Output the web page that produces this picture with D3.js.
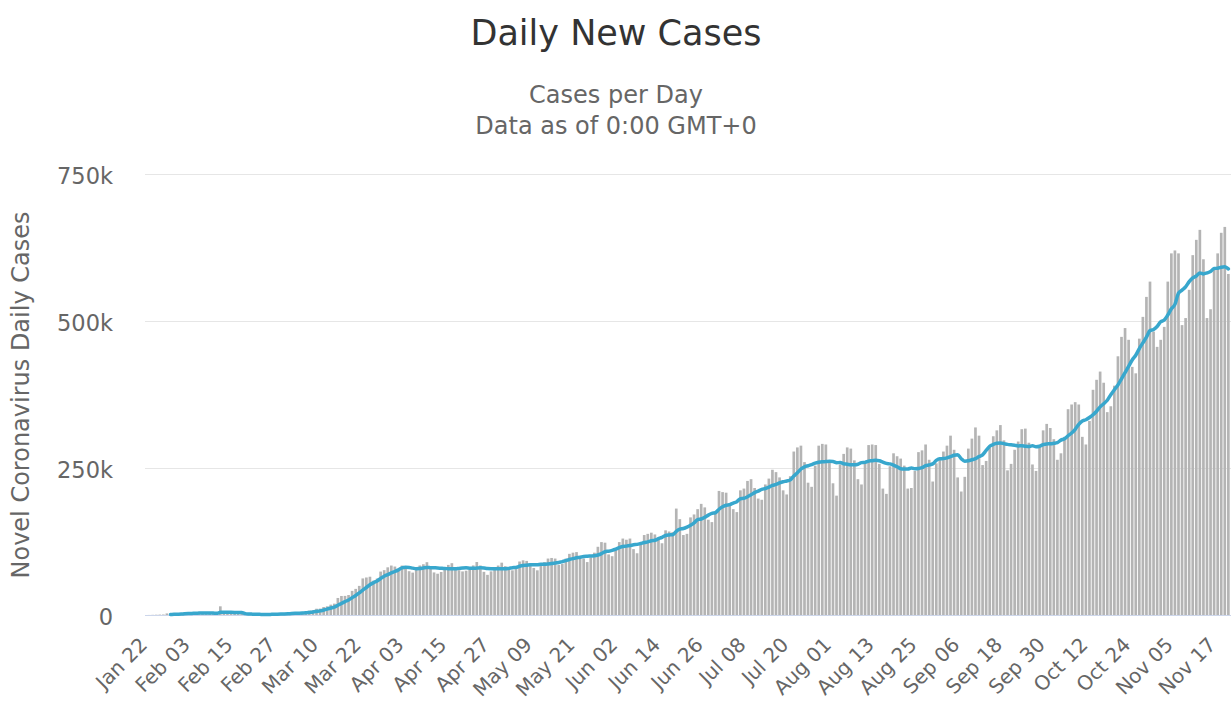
<!DOCTYPE html>
<html>
<head>
<meta charset="utf-8">
<script src="https://cdn.jsdelivr.net/npm/d3@7"></script>
<style>
  body { margin: 0; background: #fff; }
  svg { font-family: "DejaVu Sans", sans-serif; display: block; }
</style>
</head>
<body>
<div id="chart"></div>
<script>
// daily new cases, month by month
var janCases = [0, 99, 287, 493, 684, 809, 2651, 588, 2068, 1693]
var febCases = [2111, 4749, 3094, 4011, 3743, 3159, 3418, 2607, 2974, 2490, 2026, 14782, 5214, 2640, 2088, 1993, 1882, 1741,
  592, 871, 1008, 1053, 559, 525, 880, 1899, 2386, 1877, 2421]
var marCases = [2351, 2728, 3913, 4009, 3866, 4124, 4554, 7368, 7914, 10659, 10907, 13599, 14776, 17567, 19322, 28966,
  32346, 32484, 33958, 41039, 44418, 49521, 62211, 63806, 65107, 58408, 61975, 73837, 76267, 81091, 84088]
var aprCases = [82400, 78200, 84100, 82300, 74500, 72100, 76900, 84200, 86300, 89800, 80100, 72400, 70200, 73100, 80900,
  85200, 88100, 81300, 76200, 74100, 75300, 77200, 84300, 90100, 84200, 73400, 68300, 74200, 77400, 84100]
var mayCases = [89000, 83000, 79000, 76000, 78000, 91000, 93000, 92000, 88000, 80000, 76000, 85000, 90000, 96000, 97000,
  96000, 85000, 87000, 96000, 104000, 106000, 107000, 101000, 96000, 90000, 98000, 106000, 116000, 124000, 123000, 103000]
var junCases = [100000, 112000, 124000, 130000, 128000, 130000, 112000, 105000, 122000, 136000, 138000, 140000, 137000,
  130000, 122000, 144000, 142000, 141000, 181000, 163000, 136000, 138000, 166000, 171000, 180000, 189000, 183000, 162000,
  158000, 176000]
var julCases = [211000, 209000, 208000, 190000, 180000, 175000, 212000, 215000, 228000, 231000, 216000, 198000, 196000,
  222000, 232000, 247000, 243000, 234000, 212000, 205000, 236000, 278000, 285000, 288000, 260000, 225000, 218000, 254000,
  288000, 291000, 290000]
var augCases = [263000, 224000, 203000, 256000, 274000, 285000, 283000, 263000, 231000, 222000, 259000, 289000, 290000,
  289000, 257000, 215000, 206000, 253000, 275000, 270000, 266000, 254000, 215000, 216000, 245000, 277000, 280000, 290000,
  264000, 227000, 258000]
var sepCases = [265000, 278000, 288000, 305000, 281000, 234000, 210000, 235000, 283000, 300000, 319000, 305000, 255000,
  262000, 285000, 304000, 314000, 323000, 297000, 246000, 257000, 281000, 295000, 316000, 317000, 293000, 256000, 245000,
  287000, 314000]
var octCases = [325000, 318000, 299000, 264000, 275000, 303000, 350000, 358000, 362000, 358000, 303000, 290000, 330000,
  383000, 400000, 414000, 395000, 345000, 355000, 390000, 440000, 473000, 488000, 468000, 422000, 411000, 470000, 507000,
  541000, 567000, 482000]
var novCases = [456000, 468000, 490000, 567000, 615000, 620000, 615000, 493000, 505000, 553000, 612000, 638000, 655000,
  605000, 505000, 520000, 590000, 615000, 650000, 660000, 580000]

var firstDay = new Date(2020, 0, 22)
var tickLabels = ['Jan 22','Feb 03','Feb 15','Feb 27','Mar 10','Mar 22','Apr 03','Apr 15','Apr 27','May 09','May 21',
  'Jun 02','Jun 14','Jun 26','Jul 08','Jul 20','Aug 01','Aug 13','Aug 25','Sep 06','Sep 18','Sep 30','Oct 12','Oct 24',
  'Nov 05','Nov 17']
var yTicks = [0, 250000, 500000, 750000]

var dailyCases = [].concat(janCases, febCases, marCases, aprCases, mayCases, junCases, julCases, augCases, sepCases,
  octCases, novCases)
var fmt = d3.timeFormat('%b %d')
var categories = dailyCases.map(function(d, i){ return fmt(d3.timeDay.offset(firstDay, i)) })
// 7-day moving average of the bars
var movingAvg = dailyCases.map(function(d, i){
  return i < 7 ? null : d3.mean(dailyCases.slice(i - 6, i + 1))
})

var width = 1231, height = 702
var step = 3.559
var left = 144.2

var svg = d3.select('#chart').append('svg').attr('width', width).attr('height', height)

var x = d3.scaleBand().domain(categories).range([left, left + categories.length * step]).paddingInner(0.25)
var y = d3.scaleLinear().domain([0, 750000]).range([615, 174])

// title
svg.append('text').attr('x', 616).attr('y', 45).attr('text-anchor', 'middle')
  .style('font-size', '35px').style('fill', '#333').text('Daily New Cases')
svg.append('text').attr('x', 616).attr('y', 103).attr('text-anchor', 'middle')
  .style('font-size', '24px').style('fill', '#666').text('Cases per Day')
svg.append('text').attr('x', 616).attr('y', 134).attr('text-anchor', 'middle')
  .style('font-size', '24px').style('fill', '#666').text('Data as of 0:00 GMT+0')

// grid
var grid = svg.append('g').attr('id', 'grid')
yTicks.slice(1).forEach(function(t){
  grid.append('path').attr('d', 'M 145 ' + (Math.round(y(t)) + 0.5) + ' L ' + width + ' ' + (Math.round(y(t)) + 0.5))
    .style('stroke', '#e6e6e6').style('stroke-width', 1)
})

// y axis
var yAxis = svg.append('g').attr('transform', 'translate(113,0)')
  .call(d3.axisLeft(y).tickValues(yTicks).tickSize(0).tickPadding(0)
    .tickFormat(function(d){ return d === 0 ? '0' : (d / 1000) + 'k' }))
yAxis.select('.domain').remove()
yAxis.selectAll('text').attr('dy', '0.4em').style('font-size', '22.5px').style('fill', '#666')
  .style('font-family', '"DejaVu Sans", sans-serif')

svg.append('text').attr('transform', 'translate(29,395) rotate(-90)').attr('text-anchor', 'middle')
  .style('font-size', '24px').style('fill', '#666').text('Novel Coronavirus Daily Cases')

// bars
svg.append('g').attr('id', 'bars').selectAll('rect').data(dailyCases).enter().append('rect')
  .attr('x', function(d, i){ return x(categories[i]) })
  .attr('width', x.bandwidth())
  .attr('y', function(d){ return y(d) })
  .attr('height', function(d){ return y(0) - y(d) })
  .style('fill', '#b4b4b4')

// x axis
var xAxis = svg.append('g').attr('transform', 'translate(0,615)')
  .call(d3.axisBottom(x).tickValues(tickLabels).tickSize(0).tickSizeOuter(0))
xAxis.select('.domain').style('stroke', '#ccd6eb').attr('d', 'M 145 0.5 H ' + width)
xAxis.selectAll('text').attr('y', 0).attr('dy', null)
  .attr('transform', 'translate(3,31) rotate(-45)')
  .attr('text-anchor', 'end').style('font-size', '20px').style('fill', '#666')
  .style('font-family', '"DejaVu Sans", sans-serif')

// moving average line
var line = d3.line()
  .defined(function(d){ return d !== null })
  .x(function(d, i){ return x(categories[i]) + x.bandwidth() / 2 })
  .y(function(d){ return y(d) })
  .curve(d3.curveMonotoneX)
svg.append('path').datum(movingAvg).attr('d', line)
  .style('fill', 'none').style('stroke', '#38a7cd').style('stroke-width', 3.5)
  .style('stroke-linejoin', 'round').style('stroke-linecap', 'round')
</script>
</body>
</html>
